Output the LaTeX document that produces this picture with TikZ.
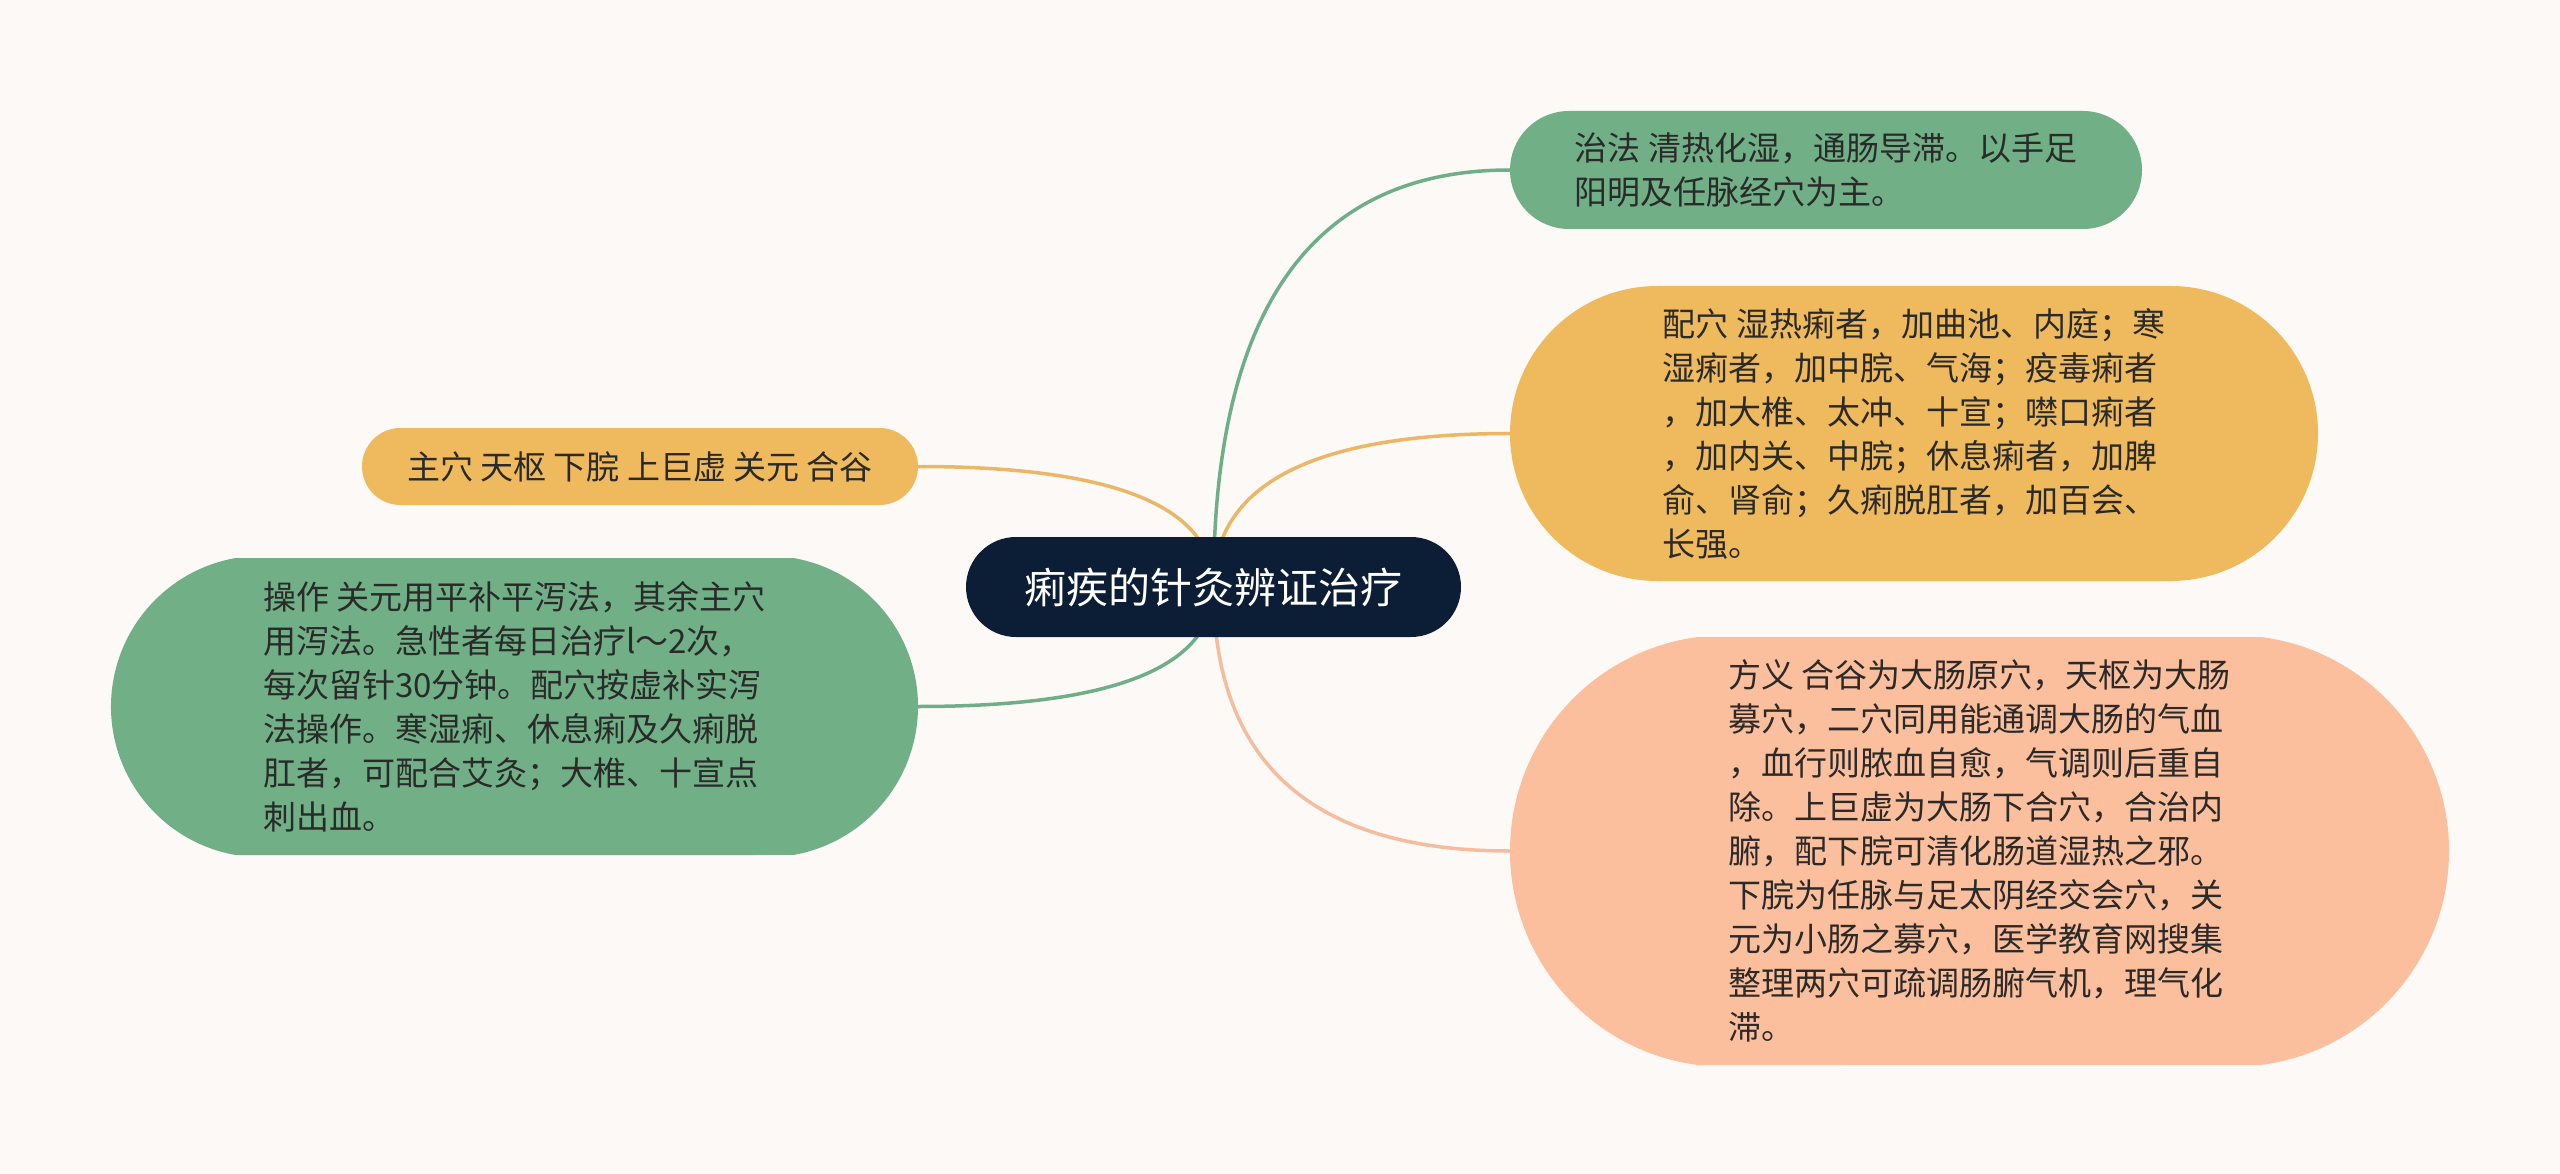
\documentclass[tikz,border=0pt]{standalone}
\usepackage{fontspec}
\setmainfont{Noto Sans CJK SC}
\usetikzlibrary{shapes.misc,calc}
\definecolor{bgc}{HTML}{FDF9F7}
\definecolor{rootc}{HTML}{0C1D36}
\definecolor{greenc}{HTML}{71B086}
\definecolor{yellowc}{HTML}{EFBA5E}
\definecolor{salmonc}{HTML}{FCBF9D}
\definecolor{txtc}{HTML}{2A2A2A}
\definecolor{greenl}{HTML}{6FAE87}
\definecolor{yellowl}{HTML}{EBB666}
\definecolor{salmonl}{HTML}{F6BC9E}
\pgfdeclarelayer{bg}
\pgfsetlayers{bg,main}
\begin{document}
\begin{tikzpicture}[x=1pt,y=-1pt,
  pill/.style={rounded rectangle, inner sep=0pt, outer sep=0pt},
  txt/.style={align=left, font=\fontsize{33}{44}\selectfont, text=txtc},
  link/.style={line width=3.5pt, line cap=round},
  pc/.style={draw=#1, link}]
\node[pill, fill=rootc, minimum width=495pt, minimum height=100pt,
      text=white, font=\fontsize{42}{50}\selectfont] (root) at (1213.5,587) {痢疾的针灸辨证治疗};
\node[pill, txt, fill=greenc, minimum width=632pt, minimum height=118pt] (n1) at (1826,170)
 {治法 清热化湿，通肠导滞。以手足\\阳明及任脉经穴为主。};
\node[pill, txt, fill=yellowc, minimum width=808pt, minimum height=295pt] (n2) at (1914,433.5)
 {配穴 湿热痢者，加曲池、内庭；寒\\湿痢者，加中脘、气海；疫毒痢者\\，加大椎、太冲、十宣；噤口痢者\\，加内关、中脘；休息痢者，加脾\\俞、肾俞；久痢脱肛者，加百会、\\长强。};
\node[pill, txt, fill=salmonc, rounded rectangle arc length=165, minimum width=939pt, minimum height=428pt] (n3) at (1979.5,851)
 {方义 合谷为大肠原穴，天枢为大肠\\募穴，二穴同用能通调大肠的气血\\，血行则脓血自愈，气调则后重自\\除。上巨虚为大肠下合穴，合治内\\腑，配下脘可清化肠道湿热之邪。\\下脘为任脉与足太阴经交会穴，关\\元为小肠之募穴，医学教育网搜集\\整理两穴可疏调肠腑气机，理气化\\滞。};
\node[pill, txt, fill=yellowc, minimum width=556pt, minimum height=77pt] (l1) at (640,466.5)
 {主穴 天枢 下脘 上巨虚 关元 合谷};
\node[pill, txt, fill=greenc, rounded rectangle arc length=160, minimum width=807pt, minimum height=297pt] (l2) at (514.5,706.5)
 {操作 关元用平补平泻法，其余主穴\\用泻法。急性者每日治疗l～2次，\\每次留针30分钟。配穴按虚补实泻\\法操作。寒湿痢、休息痢及久痢脱\\肛者，可配合艾灸；大椎、十宣点\\刺出血。};
\begin{pgfonlayer}{bg}
\fill[bgc] (0,0) rectangle (2560,1174);
\foreach \t/\a/\c in {n1/west/greenl, n2/west/yellowl, n3/west/salmonl, l1/east/yellowl, l2/east/greenl}{
  \draw[pc=\c] (root.center) .. controls ($(root.center)!2/3!(root.center|-\t.\a)$)
    and ($(\t.\a)!2/3!(root.center|-\t.\a)$) .. (\t.\a);
}
\end{pgfonlayer}
\end{tikzpicture}
\end{document}
